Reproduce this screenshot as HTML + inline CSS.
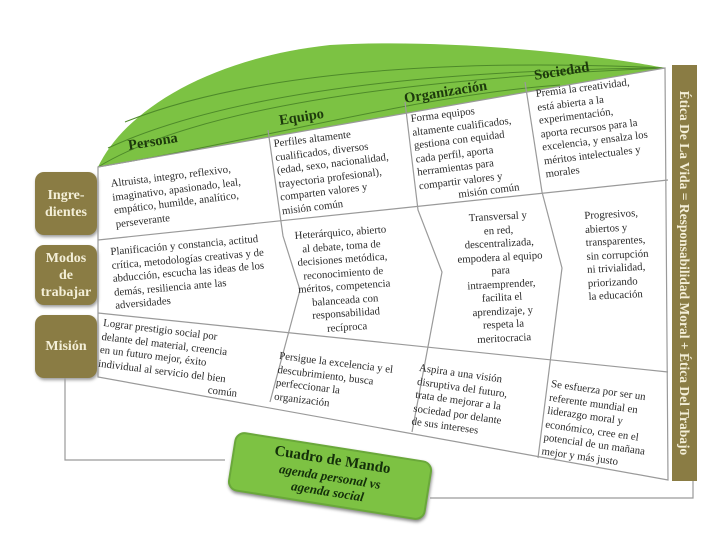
<!DOCTYPE html>
<html><head><meta charset="utf-8"><style>
body{margin:0;width:720px;height:539px;background:#fff;overflow:hidden;position:relative;font-family:"Liberation Serif",serif;}
.t{position:absolute;font-size:10.8px;line-height:13.5px;color:#2a2a2a;white-space:nowrap;transform-origin:0 0;}
.h{position:absolute;font-weight:bold;font-size:14.5px;color:#1d3a0c;transform-origin:0 0;transform:rotate(-9deg);white-space:nowrap;}
.c{text-align:center;}
.box{position:absolute;left:35px;width:62px;background:#8a7c44;border-radius:9px;color:#f4efd8;font-weight:bold;font-size:14px;line-height:17px;display:flex;align-items:center;justify-content:center;text-align:center;box-shadow:1px 2px 3px #999;}
</style></head><body>
<svg width="720" height="539" style="position:absolute;left:0;top:0">
<path d="M98,167 C125,110 210,58 330,45 C450,38 600,55 665,68 Z" fill="#7cc243"/>
<g fill="none" stroke="#4e8a2a" stroke-width="1">
<path d="M98,167 C200,105 420,78 665,68"/>
<path d="M108,148 C230,92 430,70 665,68"/>
<path d="M125,122 C250,72 450,58 665,68"/>
<path d="M98,167 C260,140 420,95 560,85"/>
</g>
<g stroke="#9a9a9a" stroke-width="1.2" fill="none">
<path d="M98,167 L665,68 L668,480 L98,377 Z"/>
<path d="M98,240 L668,180"/>
<path d="M98,313 L668,372"/>
<path d="M268,130 L283,236 L300,290 L270,402"/>
<path d="M405,102 L418,210 L442,272 L412,432"/>
<path d="M525,82 L542,192 L562,268 L538,458"/>
<path d="M65,378 L65,460 L225,460"/>
<path d="M430,498 L693,498 L693,480"/>
</g>
<rect x="672" y="65" width="25" height="416" fill="#8a7c44"/>
</svg>
<div style="position:absolute;left:684px;top:273px;width:0;height:0;">
<div style="position:absolute;transform:translate(-50%,-50%) rotate(90deg);white-space:nowrap;color:#f4efd8;font-weight:bold;font-size:13.5px;">Ética De La Vida = Responsabilidad Moral + Ética Del Trabajo</div></div>

<div class="box" style="top:172px;height:63px;">Ingre-<br>dientes</div>
<div class="box" style="top:245px;height:60px;">Modos<br>de<br>trabajar</div>
<div class="box" style="top:315px;height:63px;">Misión</div>

<div class="h" style="left:127px;top:138px;">Persona</div>
<div class="h" style="left:278px;top:113px;">Equipo</div>
<div class="h" style="left:403px;top:91px;">Organización</div>
<div class="h" style="left:533px;top:68px;">Sociedad</div>

<div class="t" style="left:110px;top:178px;transform:rotate(-7deg)">Altruista, integro, reflexivo,<br>imaginativo, apasionado, leal,<br>empático, humilde, analítico,<br>perseverante</div>
<div class="t" style="left:273px;top:138px;transform:rotate(-7deg)">Perfiles  altamente<br>cualificados, diversos<br>(edad, sexo, nacionalidad,<br>trayectoria profesional),<br>comparten valores y<br>misión común</div>
<div class="t c" style="left:410px;top:113px;transform:rotate(-7deg)"><div style="text-align:left">Forma equipos<br>altamente cualificados,<br>gestiona con equidad<br>cada perfil, aporta<br>herramientas para<br>compartir valores y</div><div style="text-align:right">misión común</div></div>
<div class="t" style="left:535px;top:88px;transform:rotate(-7deg)">Premia la creatividad,<br>está abierta a la<br>experimentación,<br>aporta recursos para  la<br>excelencia, y ensalza los<br>méritos intelectuales  y<br>morales</div>

<div class="t" style="left:110px;top:246px;transform:rotate(-5deg)">Planificación y constancia, actitud<br>crítica, metodologías creativas y de<br>abducción, escucha las  ideas de los<br>demás, resiliencia  ante las<br>adversidades</div>
<div class="t c" style="left:294px;top:230px;transform:rotate(-4deg)">Heterárquico, abierto<br>al debate, toma de<br>decisiones metódica,<br>reconocimiento de<br>méritos, competencia<br>balanceada con<br>responsabilidad<br>recíproca</div>
<div class="t c" style="left:455px;top:213px;transform:rotate(-3deg)">Transversal y<br>en red,<br>descentralizada,<br>empodera al equipo<br>para<br>intraemprender,<br>facilita el<br>aprendizaje, y<br>respeta la<br>meritocracia</div>
<div class="t" style="left:584px;top:210px;transform:rotate(-3deg)">Progresivos,<br>abiertos y<br>transparentes,<br>sin corrupción<br>ni trivialidad,<br>priorizando<br>la educación</div>

<div class="t" style="left:104px;top:317px;transform:rotate(7deg)">Lograr prestigio social por<br>delante del material, creencia<br>en un futuro mejor,  éxito<br>individual al servicio del bien<br><span style="padding-left:112px">común</span></div>
<div class="t" style="left:280px;top:350px;transform:rotate(7deg)">Persigue la excelencia y el<br>descubrimiento, busca<br>perfeccionar la<br>organización</div>
<div class="t" style="left:420px;top:362px;transform:rotate(8deg)">Aspira a una visión<br>disruptiva del futuro,<br>trata de mejorar a la<br>sociedad por delante<br>de sus intereses</div>
<div class="t" style="left:552px;top:378px;transform:rotate(8deg)">Se esfuerza por ser un<br>referente mundial en<br>liderazgo moral y<br>económico, cree en el<br>potencial de un mañana<br>mejor y más justo</div>

<div style="position:absolute;left:230px;top:446px;width:196px;height:56px;background:#7dc243;border:2px solid #6aa83a;border-radius:10px;transform:rotate(9deg);box-shadow:1px 2px 3px #888;text-align:center;color:#14300a;font-weight:bold;">
<div style="font-size:15px;line-height:18px;margin-top:3px">Cuadro de Mando</div>
<div style="font-size:13px;line-height:15px;font-style:italic">agenda personal vs<br>agenda social</div></div>
</body></html>
